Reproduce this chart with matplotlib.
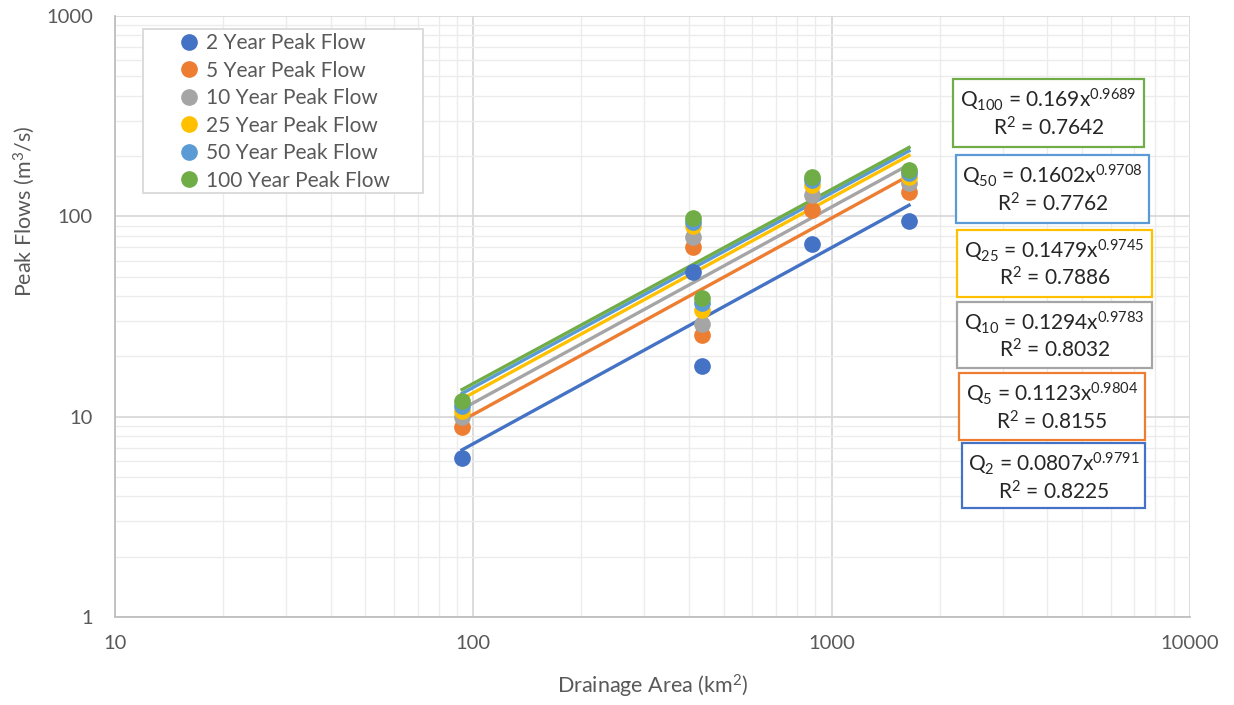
"""
Peak flow vs drainage area (log-log) with power trendlines
"""

import matplotlib.pyplot as plt
import numpy as np
from matplotlib.patches import Rectangle
from matplotlib.ticker import FixedLocator, FixedFormatter, LogLocator, NullFormatter

plt.rcParams['font.family'] = ['Lato', 'DejaVu Sans']
plt.rcParams['mathtext.fontset'] = 'custom'
plt.rcParams['mathtext.rm'] = 'Lato'
plt.rcParams['mathtext.it'] = 'Lato'

# 数据
area = [93, 410, 435, 881, 1644]
q2 = [6.2, 53, 17.9, 73, 95]
q5 = [8.9, 70.5, 25.5, 107, 133]
q10 = [10.0, 79, 29, 128, 146]
q25 = [10.7, 89, 34, 143, 158]
q50 = [11.3, 94, 36.8, 152, 164]
q100 = [12.0, 98, 39, 158, 170]

series_names = ['2 Year Peak Flow', '5 Year Peak Flow', '10 Year Peak Flow',
                '25 Year Peak Flow', '50 Year Peak Flow', '100 Year Peak Flow']
return_periods = ['2', '5', '10', '25', '50', '100']
coef_a = [0.0807, 0.1123, 0.1294, 0.1479, 0.1602, 0.169]
coef_b = [0.9791, 0.9804, 0.9783, 0.9745, 0.9708, 0.9689]
r2 = ['0.8225', '0.8155', '0.8032', '0.7886', '0.7762', '0.7642']
a_text = ['0.0807', '0.1123', '0.1294', '0.1479', '0.1602', '0.169']
b_text = ['0.9791', '0.9804', '0.9783', '0.9745', '0.9708', '0.9689']

colors = ['#4472C4', '#ED7D31', '#A5A5A5', '#FFC000', '#5B9BD5', '#70AD47']
all_q = [q2, q5, q10, q25, q50, q100]

W, H = 1234, 705
fig = plt.figure(figsize=(W / 100, H / 100), dpi=100)
ax = fig.add_axes([115 / W, 1 - 617 / H, 1075 / W, 601 / H])

ax.set_xscale('log')
ax.set_yscale('log')
ax.set_xlim(10, 10000)
ax.set_ylim(1, 1000)

# 网格
ax.grid(which='major', color='#d9d9d9', linewidth=1.3)
ax.grid(which='minor', color='#ececec', linewidth=1.0)
ax.xaxis.set_minor_locator(LogLocator(base=10, subs=np.arange(2, 10)))
ax.yaxis.set_minor_locator(LogLocator(base=10, subs=np.arange(2, 10)))
ax.xaxis.set_minor_formatter(NullFormatter())
ax.yaxis.set_minor_formatter(NullFormatter())
ax.set_axisbelow(True)

ax.xaxis.set_major_locator(FixedLocator([10, 100, 1000, 10000]))
ax.xaxis.set_major_formatter(FixedFormatter(['10', '100', '1000', '10000']))
ax.yaxis.set_major_locator(FixedLocator([1, 10, 100, 1000]))
ax.yaxis.set_major_formatter(FixedFormatter(['1', '10', '100', '1000']))
ax.tick_params(which='both', length=0, labelsize=14.5, labelcolor='#595959')
ax.tick_params(axis='x', pad=13)
ax.tick_params(axis='y', pad=16)

for s in ['top', 'right']:
    ax.spines[s].set_visible(False)
for s in ['left', 'bottom']:
    ax.spines[s].set_color('#bfbfbf')
    ax.spines[s].set_linewidth(1.3)

# 趋势线
xfit = np.linspace(min(area), max(area), 100)
for a, b, c in zip(coef_a, coef_b, colors):
    ax.plot(xfit, a * xfit ** b, color=c, linewidth=2.4, zorder=2)

# 散点
for q, c, name in zip(all_q, colors, series_names):
    ax.plot(area, q, 'o', color=c, markersize=11, label=name, zorder=3)

# 图例框
ax.add_patch(Rectangle((143 / W, 1 - 193 / H), 280 / W, 164 / H,
                       transform=fig.transFigure, facecolor='white',
                       edgecolor='#d9d9d9', linewidth=1.3, zorder=4))
leg = ax.legend(loc='upper left', bbox_to_anchor=(150 / W, 1 - 29 / H),
                bbox_transform=fig.transFigure, fontsize=15, frameon=False,
                handletextpad=-0.8, borderpad=0.2, labelspacing=0.36,
                handlelength=3.3, borderaxespad=0)
leg.set_zorder(5)
for t in leg.get_texts():
    t.set_color('#595959')

ax.set_xlabel('Drainage Area (km$^2$)', fontsize=15.5, color='#595959', labelpad=15)
ax.set_ylabel('Peak Flows (m$^3$/s)', fontsize=15.5, color='#595959')
ax.yaxis.set_label_coords(-0.0726, (617 - 211) / 601)

# 方程文本框 (left, right, top, bottom in pixels)
boxes = [(962, 1145, 443, 508), (959, 1145, 373, 440), (957, 1152, 302, 368),
         (957, 1152, 230, 297), (956, 1149, 155, 223), (953, 1144, 79, 147)]
for i in range(6):
    x0, x1, y0, y1 = boxes[i]
    fig.patches.append(Rectangle((x0 / W, 1 - y1 / H), (x1 - x0) / W, (y1 - y0) / H,
                                 transform=fig.transFigure, facecolor='white',
                                 edgecolor=colors[i], linewidth=1.6, zorder=6))
    cx = (x0 + x1) / 2 / W
    line1 = 'Q$_{%s}$ = %sx$^{%s}$' % (return_periods[i], a_text[i], b_text[i])
    line2 = 'R$^2$ = %s' % r2[i]
    fig.text(cx, 1 - (y0 + 28) / H, line1, ha='center', va='baseline',
             fontsize=15, color='#262626', zorder=7)
    fig.text(cx, 1 - (y0 + 56) / H, line2, ha='center', va='baseline',
             fontsize=15, color='#262626', zorder=7)

fig.savefig('out.png', dpi=100)
plt.close(fig)
